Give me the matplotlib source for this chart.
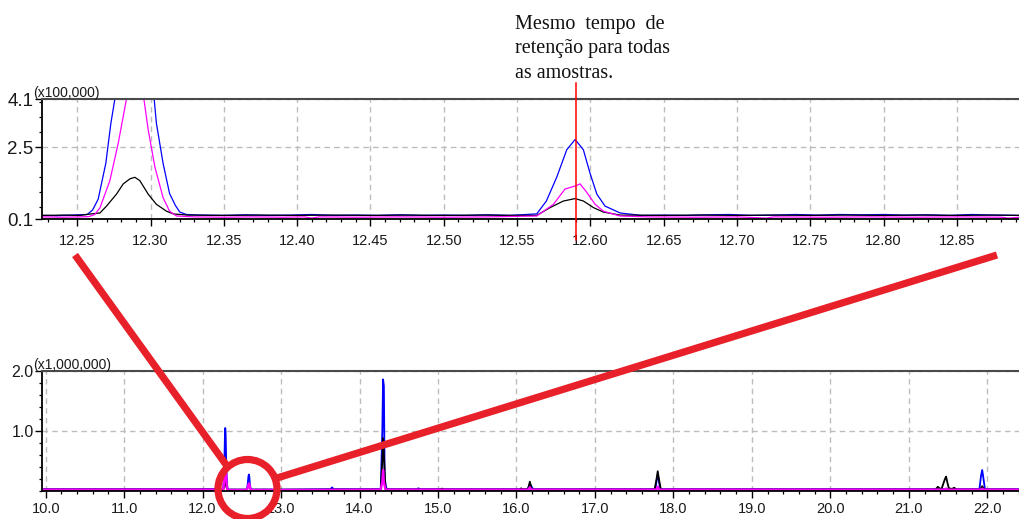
import matplotlib
matplotlib.use("Agg")
import matplotlib.pyplot as plt
import matplotlib.transforms as mtransforms
from matplotlib.lines import Line2D
from matplotlib.patches import Circle
from matplotlib.ticker import FixedLocator, MultipleLocator

# ---------------- zoom window (12.22 - 12.90 min), intensity x100,000 ----------------
win_blue = [
    (12.226, 0.22), (12.236, 0.21), (12.246, 0.23), (12.2568, 0.25), (12.2605, 0.40),
    (12.2643, 0.76), (12.2695, 1.95), (12.273, 3.30), (12.2757, 4.10), (12.280, 6.5),
    (12.284, 9.0), (12.288, 10.5), (12.292, 10.0), (12.296, 8.0), (12.2995, 5.5),
    (12.3025, 4.10), (12.304, 3.30), (12.3086, 1.95), (12.313, 0.95), (12.317, 0.55),
    (12.320, 0.33), (12.3245, 0.25), (12.335, 0.23), (12.350, 0.22), (12.365, 0.24),
    (12.380, 0.22), (12.395, 0.23), (12.410, 0.25), (12.425, 0.22), (12.440, 0.23),
    (12.455, 0.22), (12.470, 0.24), (12.485, 0.22), (12.500, 0.23), (12.515, 0.22),
    (12.530, 0.24), (12.545, 0.22), (12.5634, 0.27), (12.570, 0.70), (12.5771, 1.50),
    (12.5839, 2.41), (12.5896, 2.75), (12.5952, 2.41), (12.5998, 1.62), (12.6044, 0.93),
    (12.610, 0.53), (12.6203, 0.30), (12.635, 0.22), (12.650, 0.23), (12.665, 0.22),
    (12.680, 0.24), (12.695, 0.25), (12.710, 0.22), (12.725, 0.23), (12.740, 0.25),
    (12.755, 0.23), (12.770, 0.25), (12.785, 0.24), (12.800, 0.25), (12.815, 0.23),
    (12.830, 0.24), (12.845, 0.22), (12.860, 0.25), (12.875, 0.23), (12.893, 0.22),
]
win_magenta = [
    (12.226, 0.17), (12.240, 0.16), (12.252, 0.17), (12.258, 0.18), (12.262, 0.25),
    (12.2655, 0.47), (12.2723, 1.38), (12.278, 2.63), (12.2836, 4.10), (12.2895, 5.0),
    (12.2955, 4.10), (12.2984, 3.08), (12.303, 1.83), (12.3086, 0.81), (12.313, 0.36),
    (12.3177, 0.20), (12.330, 0.17), (12.350, 0.16), (12.370, 0.17), (12.390, 0.16),
    (12.405, 0.17), (12.410, 0.13), (12.415, 0.17), (12.440, 0.16), (12.470, 0.17),
    (12.500, 0.16), (12.530, 0.17), (12.5634, 0.20), (12.5748, 0.59), (12.5827, 1.10),
    (12.5896, 1.20), (12.593, 1.27), (12.5975, 0.99), (12.6032, 0.59), (12.6089, 0.36),
    (12.6203, 0.20), (12.640, 0.17), (12.670, 0.16), (12.700, 0.17), (12.720, 0.13),
    (12.725, 0.17), (12.760, 0.16), (12.790, 0.17), (12.820, 0.16), (12.850, 0.17),
    (12.880, 0.16), (12.885, 0.13), (12.893, 0.16),
]
win_black = [
    (12.226, 0.22), (12.240, 0.23), (12.252, 0.22), (12.258, 0.26), (12.2655, 0.30),
    (12.270, 0.53), (12.2768, 0.93), (12.2814, 1.27), (12.286, 1.44), (12.2893, 1.49),
    (12.2927, 1.38), (12.2984, 0.93), (12.304, 0.59), (12.3109, 0.36), (12.3155, 0.27),
    (12.325, 0.23), (12.350, 0.22), (12.375, 0.23), (12.400, 0.22), (12.425, 0.23),
    (12.450, 0.22), (12.475, 0.23), (12.500, 0.22), (12.525, 0.23), (12.550, 0.22),
    (12.5634, 0.22), (12.5725, 0.48), (12.5816, 0.70), (12.5896, 0.78), (12.5952, 0.70),
    (12.6021, 0.48), (12.6089, 0.33), (12.6203, 0.23), (12.650, 0.22), (12.675, 0.23),
    (12.700, 0.22), (12.725, 0.23), (12.750, 0.22), (12.775, 0.23), (12.800, 0.22),
    (12.825, 0.23), (12.850, 0.22), (12.875, 0.23), (12.893, 0.22),
]

# ---------------- full run outside the window, intensity x1,000,000 ----------------
run_blue = [
    (9.953, 0.03), (12.20, 0.03),
    (13.63, 0.03), (13.65, 0.06), (13.67, 0.03),
    (14.27, 0.03), (14.29, 1.00), (14.30, 1.86), (14.31, 1.75), (14.32, 0.20),
    (14.34, 0.05), (14.36, 0.03),
    (14.73, 0.03), (14.75, 0.045), (14.77, 0.03),
    (16.14, 0.03), (16.17, 0.12), (16.19, 0.08), (16.21, 0.03),
    (17.77, 0.03), (17.79, 0.20), (17.81, 0.22), (17.83, 0.03),
    (21.90, 0.03), (21.92, 0.25), (21.935, 0.35), (21.95, 0.22), (21.97, 0.03),
    (22.417, 0.03),
]
run_black = [
    (9.953, 0.025), (12.20, 0.025),
    (14.27, 0.025), (14.29, 0.50), (14.30, 0.88), (14.31, 0.60), (14.33, 0.05),
    (14.35, 0.025),
    (15.03, 0.025), (15.05, 0.04), (15.07, 0.025),
    (16.04, 0.025), (16.06, 0.045), (16.08, 0.025), (16.15, 0.035), (16.17, 0.155),
    (16.19, 0.05), (16.21, 0.025),
    (17.76, 0.025), (17.785, 0.20), (17.80, 0.33), (17.815, 0.20), (17.84, 0.025),
    (21.34, 0.025), (21.37, 0.07), (21.40, 0.035), (21.42, 0.045), (21.46, 0.20),
    (21.475, 0.24), (21.49, 0.15), (21.51, 0.045), (21.55, 0.035), (21.58, 0.055),
    (21.60, 0.025),
    (21.91, 0.025), (21.935, 0.08), (21.96, 0.025),
    (22.417, 0.025),
]
run_magenta = [
    (9.953, 0.022), (12.20, 0.022),
    (14.27, 0.022), (14.29, 0.15), (14.30, 0.35), (14.31, 0.15), (14.33, 0.022),
    (16.15, 0.022), (16.17, 0.06), (16.19, 0.022),
    (17.78, 0.022), (17.80, 0.07), (17.82, 0.022),
    (21.46, 0.022), (21.475, 0.04), (21.49, 0.022),
    (21.92, 0.022), (21.935, 0.04), (21.95, 0.022),
    (22.417, 0.022),
]

top_xticks = [12.25, 12.30, 12.35, 12.40, 12.45, 12.50, 12.55, 12.60, 12.65,
              12.70, 12.75, 12.80, 12.85]
top_yticks = [0.1, 2.5, 4.1]
bot_xticks = [10.0, 11.0, 12.0, 13.0, 14.0, 15.0, 16.0, 17.0, 18.0, 19.0,
              20.0, 21.0, 22.0]
bot_yticks = [1.0, 2.0]
retention_mark = 12.59

note_lines = ["Mesmo  tempo  de", "retenção para todas", "as amostras."]

COL_BLUE = "#0000ff"
COL_MAG = "#ff00ff"
COL_BLACK = "#000000"
COL_RED = "#e8202a"
GRID = "#bdbdbd"

plt.rcParams["font.family"] = ["Liberation Sans", "DejaVu Sans"]


def split(pairs):
    return [p[0] for p in pairs], [p[1] for p in pairs]


def full_trace(run_pairs, win_pairs):
    """Merge the full-run points with the window points (x1e5 -> x1e6)."""
    lo, hi = win_pairs[0][0], win_pairs[-1][0]
    pts = [p for p in run_pairs if p[0] < lo or p[0] > hi]
    pts += [(t, v / 10.0) for t, v in win_pairs]
    pts.sort()
    return split(pts)


fig = plt.figure(figsize=(10.20, 5.19), dpi=100)
ax_top = fig.add_axes([42 / 1020, 1 - 219 / 519, 1 - 42 / 1020, 120 / 519])
ax_bot = fig.add_axes([42 / 1020, 1 - 491 / 519, 1 - 42 / 1020, 120 / 519])


def style(ax, pad_x, ylabel_size):
    ax.spines["right"].set_visible(False)
    ax.spines["top"].set_color("#4a4a4a")
    ax.spines["top"].set_linewidth(1.5)
    for s in ("left", "bottom"):
        ax.spines[s].set_color("#000000")
        ax.spines[s].set_linewidth(1.3)
    ax.tick_params(which="major", direction="out", length=5, width=1.0,
                   colors="#000000", labelcolor="#1a1a1a")
    ax.tick_params(which="minor", direction="out", length=2.5, width=0.9,
                   colors="#000000")
    ax.tick_params(axis="x", which="major", pad=pad_x, labelsize=10.5)
    ax.tick_params(axis="y", which="major", pad=1.0, labelsize=ylabel_size)
    ax.grid(True, which="major", color=GRID, linestyle=(0, (4, 3)), linewidth=1.0)
    ax.set_axisbelow(True)


# ---- top: zoom window ----
for pairs, col in ((win_blue, COL_BLUE), (win_black, COL_BLACK), (win_magenta, COL_MAG)):
    t, v = split(pairs)
    ax_top.plot(t, v, color=col, linewidth=0.9)
ax_top.set_xlim(12.226, 12.893)
ax_top.set_ylim(0.1, 4.1)
ax_top.xaxis.set_major_locator(FixedLocator(top_xticks))
ax_top.set_xticklabels([f"{x:.2f}" for x in top_xticks])
ax_top.xaxis.set_minor_locator(MultipleLocator(0.01))
ax_top.yaxis.set_major_locator(FixedLocator(top_yticks))
ax_top.set_yticklabels([f"{y:.1f}" for y in top_yticks])
ax_top.yaxis.set_minor_locator(MultipleLocator(0.5))
style(ax_top, 5.5, 13.5)

# ---- bottom: full run ----
for run, win, col, lw in ((run_blue, win_blue, COL_BLUE, 1.3),
                          (run_black, win_black, COL_BLACK, 1.3),
                          (run_magenta, win_magenta, COL_MAG, 1.7)):
    t, v = full_trace(run, win)
    ax_bot.plot(t, v, color=col, linewidth=lw)
ax_bot.set_xlim(9.953, 22.417)
ax_bot.set_ylim(0.0, 2.0)
ax_bot.xaxis.set_major_locator(FixedLocator(bot_xticks))
ax_bot.set_xticklabels([f"{x:.1f}" for x in bot_xticks])
ax_bot.xaxis.set_minor_locator(MultipleLocator(0.2))
ax_bot.yaxis.set_major_locator(FixedLocator(bot_yticks))
ax_bot.set_yticklabels([f"{y:.1f}" for y in bot_yticks])
ax_bot.yaxis.set_minor_locator(MultipleLocator(0.2))
style(ax_bot, 3.0, 11.5)

# axis multipliers
for ax, txt in ((ax_top, "(x100,000)"), (ax_bot, "(x1,000,000)")):
    off = mtransforms.offset_copy(ax.transAxes, fig=fig, x=-9, y=-1, units="dots")
    ax.text(0, 1, txt, transform=off, ha="left", va="bottom", fontsize=10,
            color="#1a1a1a")

# retention-time marker
mark_tr = mtransforms.blended_transform_factory(ax_top.transData, ax_top.transAxes)
ax_top.add_line(Line2D([retention_mark, retention_mark], [1.133, -0.175],
                       transform=mark_tr, color="#ff0000", linewidth=1.1,
                       clip_on=False, zorder=5))

# note text
for i, line in enumerate(note_lines):
    fig.text(515 / 1020, 1 - (29 + 24.5 * i) / 519, line, ha="left",
             va="baseline", fontsize=14.5, family="Liberation Serif",
             color="#111111")

# callout: circle around the 12.59 region and connector lines (inches)
inch = fig.dpi_scale_trans
fig.add_artist(Circle((2.475, 0.30), 0.295, transform=inch, fill=False,
                      edgecolor=COL_RED, linewidth=5.2, zorder=10, clip_on=False))
fig.add_artist(Line2D([0.75, 2.27], [2.64, 0.53], transform=inch,
                      color=COL_RED, linewidth=5.2, zorder=10,
                      solid_capstyle="butt"))
fig.add_artist(Line2D([2.77, 9.97], [0.41, 2.64], transform=inch,
                      color=COL_RED, linewidth=5.2, zorder=10,
                      solid_capstyle="butt"))

fig.savefig("out.png", dpi=100)
